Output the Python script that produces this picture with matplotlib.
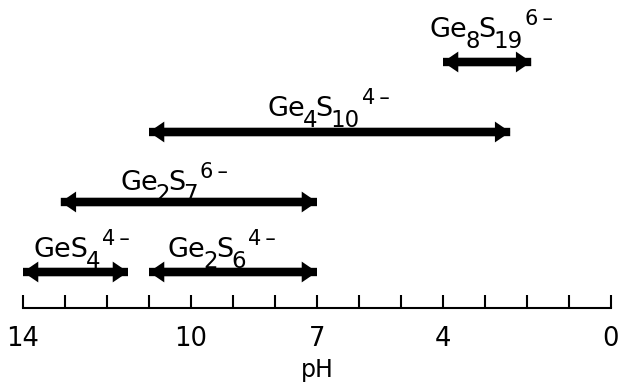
import matplotlib
matplotlib.use("Agg")
import matplotlib.pyplot as plt
from matplotlib.patches import FancyArrowPatch
from matplotlib.transforms import offset_copy

plt.rcParams['font.family'] = ['DejaVu Sans']

# Thiogermanate species (formula pieces: plain text, subscript, charge)
species = [
    [('GeS', 'n'), ('4', 'sub'), ('4\u2009\u2013', 'sup')],
    [('Ge', 'n'), ('2', 'sub'), ('S', 'n'), ('6', 'sub'), ('4\u2009\u2013', 'sup')],
    [('Ge', 'n'), ('2', 'sub'), ('S', 'n'), ('7', 'sub'), ('6\u2009\u2013', 'sup')],
    [('Ge', 'n'), ('4', 'sub'), ('S', 'n'), ('10', 'sub'), ('4\u2009\u2013', 'sup')],
    [('Ge', 'n'), ('8', 'sub'), ('S', 'n'), ('19', 'sub'), ('6\u2009\u2013', 'sup')],
]
# pH range over which each species exists
ph_high = [14.0, 11.0, 13.1, 11.0, 4.0]
ph_low = [11.5, 7.0, 7.0, 2.4, 1.9]
row = [0, 0, 1, 2, 3]

major_ticks = [14, 10, 7, 4, 0]
minor_ticks = list(range(0, 15))

# layout of the formula labels
label_left = [13.76, 10.55, 11.69, 8.19, 4.31]   # left edge, pH units
label_lift_px = [15, 15, 12, 16, 25]             # baseline above arrow
font_size = {'n': 19.5, 'sub': 16.5, 'sup': 15.0}
shift_px = {'n': 0, 'sub': -11, 'sup': 12}       # baseline offsets
tighten_px = {'n': 2.0, 'sub': 2.0, 'sup': -2.0}  # pull piece toward previous

fig = plt.figure(figsize=(6.19, 3.83), dpi=100)
ax = fig.add_axes([23 / 619, 75 / 383, 588 / 619, 308 / 383])
ax.set_xlim(14, 0)
ax.set_ylim(-36 / 70, 272 / 70)

for s in ('top', 'left', 'right'):
    ax.spines[s].set_visible(False)
ax.spines['bottom'].set_linewidth(1.5)
ax.set_yticks([])

ax.set_xticks(major_ticks)
ax.set_xticklabels([str(t) for t in major_ticks])
ax.set_xticks(minor_ticks, minor=True)
ax.tick_params(axis='x', which='both', direction='in', length=9.4, width=1.5,
               color='black')
ax.tick_params(axis='x', which='major', labelsize=18.5, pad=13)
ax.set_xlabel('pH', fontsize=17, labelpad=4.5)

renderer = fig.canvas.get_renderer()


def draw_formula(x, y, lift, pieces):
    dx = 0.0
    for i, (txt, kind) in enumerate(pieces):
        if i > 0:
            dx -= tighten_px[kind]
        tr = offset_copy(ax.transData, fig=fig, x=dx, y=lift + shift_px[kind],
                         units='dots')
        t = ax.text(x, y, txt, transform=tr, ha='left', va='baseline',
                    fontsize=font_size[kind])
        dx += t.get_window_extent(renderer).width


style = "simple,head_length=1.1,head_width=1.5,tail_width=0.6"
for hi, lo, r, parts, lx, lift in zip(ph_high, ph_low, row, species,
                                      label_left, label_lift_px):
    # two overlapping single-headed arrows make one double-headed arrow
    for a, b in ((hi, lo), (lo, hi)):
        ax.add_patch(FancyArrowPatch((a, r), (b, r), arrowstyle=style,
                                     mutation_scale=10, color='black', lw=0,
                                     shrinkA=0, shrinkB=0, clip_on=False))
    draw_formula(lx, r, lift, parts)

fig.savefig('out.png', dpi=100)
